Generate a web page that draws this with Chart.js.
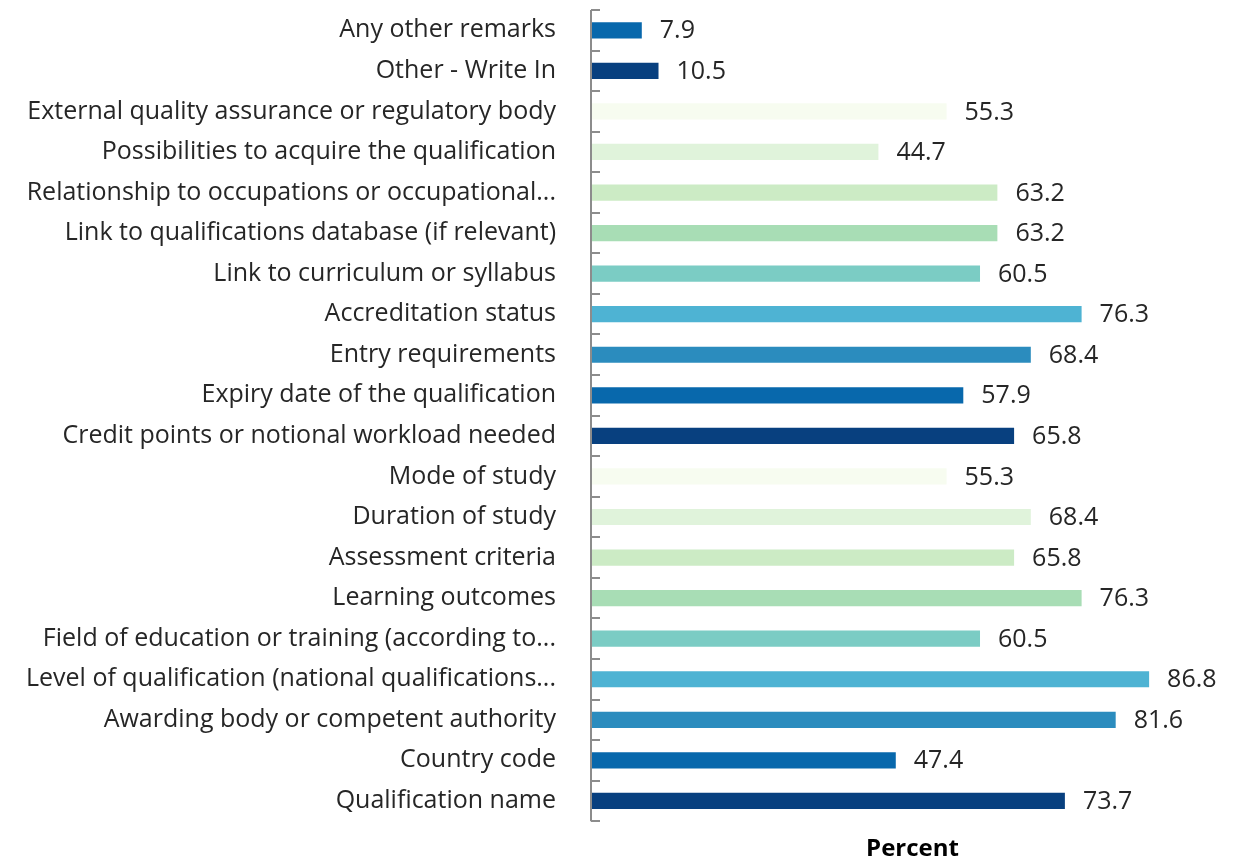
<!DOCTYPE html>
<html>
<head>
<meta charset="utf-8">
<script src="https://cdn.jsdelivr.net/npm/chart.js@4.4.6/dist/chart.umd.min.js"></script>
<style>
  html, body { margin: 0; padding: 0; background: #fff; }
  #wrap { width: 1243px; height: 858px; }
</style>
</head>
<body>
<div id="wrap"><canvas id="chart"></canvas></div>
<script>
/* categories, top to bottom as shown */
const labels = [
  "Any other remarks",
  "Other - Write In",
  "External quality assurance or regulatory body",
  "Possibilities to acquire the qualification",
  "Relationship to occupations or occupational...",
  "Link to qualifications database (if relevant)",
  "Link to curriculum or syllabus",
  "Accreditation status",
  "Entry requirements",
  "Expiry date of the qualification",
  "Credit points or notional workload needed",
  "Mode of study",
  "Duration of study",
  "Assessment criteria",
  "Learning outcomes",
  "Field of education or training (according to...",
  "Level of qualification (national qualifications...",
  "Awarding body or competent authority",
  "Country code",
  "Qualification name"
];
const values = [7.9, 10.5, 55.3, 44.7, 63.2, 63.2, 60.5, 76.3, 68.4, 57.9,
                65.8, 55.3, 68.4, 65.8, 76.3, 60.5, 86.8, 81.6, 47.4, 73.7];

/* GnBu palette, cycling from the bottom bar up */
const palette = ["#08407f", "#0868ac", "#2b8cbe", "#4eb3d3", "#7bccc4",
                 "#a8ddb5", "#ccebc5", "#e0f3db", "#f7fcf0"];
const n = labels.length;
const barColors = labels.map((_, i) => palette[(n - 1 - i) % palette.length]);

const FONT = "'Open Sans', sans-serif";
const FONT_SIZE = 25;

/* value labels right of each bar */
const valueLabels = {
  id: "valueLabels",
  afterDatasetsDraw(chart) {
    const c = chart.ctx;
    const meta = chart.getDatasetMeta(0);
    c.save();
    c.font = FONT_SIZE + "px " + FONT;
    c.fillStyle = "#262626";
    c.textAlign = "left";
    c.textBaseline = "middle";
    meta.data.forEach((bar, i) => {
      c.fillText(values[i].toFixed(1), bar.x + 18, bar.y + 1);
    });
    c.restore();
  }
};

/* vertical axis line with small inward ticks between categories */
const axisTicks = {
  id: "axisTicks",
  afterDraw(chart) {
    const c = chart.ctx;
    const y = chart.scales.y;
    const x0 = chart.scales.x.getPixelForValue(0);
    const step = y.getPixelForValue(1) - y.getPixelForValue(0);
    c.save();
    c.strokeStyle = "#8c8c8c";
    c.lineWidth = 2;
    c.beginPath();
    c.moveTo(x0, y.getPixelForValue(0) - step / 2);
    c.lineTo(x0, y.getPixelForValue(n - 1) + step / 2);
    for (let i = 0; i <= n; i++) {
      const py = Math.round(y.getPixelForValue(i) - step / 2);
      c.moveTo(x0, py);
      c.lineTo(x0 + 9, py);
    }
    c.stroke();
    c.restore();
  }
};

new Chart(document.getElementById("chart"), {
  type: "bar",
  data: {
    labels: labels,
    datasets: [{
      data: values,
      backgroundColor: barColors,
      borderWidth: 0,
      categoryPercentage: 1,
      barPercentage: 0.4
    }]
  },
  options: {
    indexAxis: "y",
    responsive: true,
    maintainAspectRatio: false,
    animation: false,
    layout: { padding: { top: 10, right: 9, bottom: -6, left: 0 } },
    plugins: { legend: { display: false }, tooltip: { enabled: false } },
    scales: {
      x: {
        min: 0,
        max: 100,
        grid: { display: false, drawTicks: false },
        border: { display: false },
        ticks: { display: false },
        title: {
          display: true,
          text: "Percent",
          color: "#000",
          font: { family: FONT, size: 24, weight: "bold" },
          padding: { top: 14, bottom: 0 }
        },
        afterFit(scale) { scale.paddingLeft = 0; scale.paddingRight = 0; }
      },
      y: {
        grid: { display: false, drawTicks: false },
        border: { display: false },
        ticks: {
          color: "#262626",
          font: { family: FONT, size: FONT_SIZE },
          padding: 35,
          autoSkip: false
        },
        afterFit(scale) {
          scale.width = 591;
          scale.paddingTop = 0;
          scale.paddingBottom = 0;
        }
      }
    }
  },
  plugins: [valueLabels, axisTicks]
});
</script>
</body>
</html>
